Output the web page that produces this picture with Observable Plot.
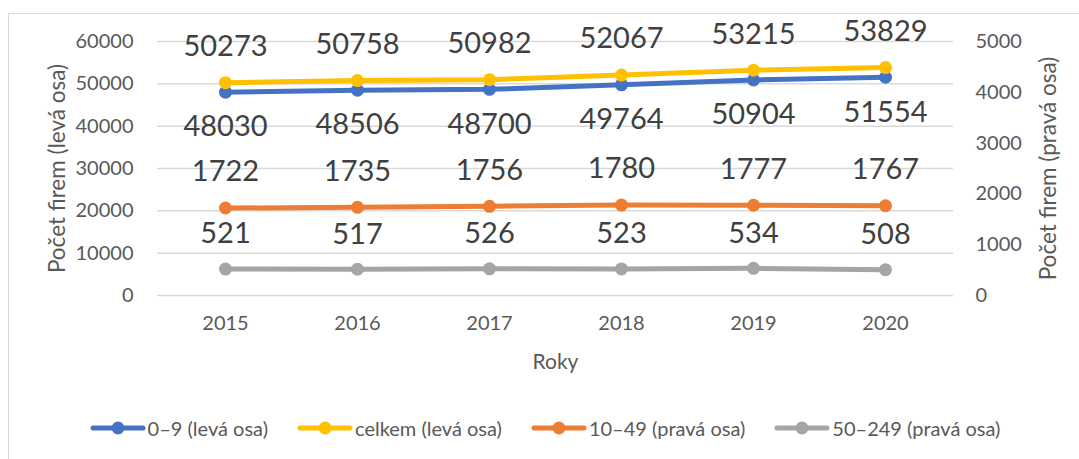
<!DOCTYPE html>
<html>
<head>
<meta charset="utf-8">
<script src="https://cdn.jsdelivr.net/npm/d3@7"></script>
<script src="https://cdn.jsdelivr.net/npm/@observablehq/plot@0.6"></script>
<style>
  html, body { margin: 0; padding: 0; background: #fff; }
  body { width: 1079px; height: 459px; overflow: hidden; position: relative; font-family: Lato, "Open Sans", sans-serif; }
  #frame { position: absolute; left: 8px; top: 13px; width: 1100px; height: 500px; border: 1.5px solid #d9d9d9; box-sizing: border-box; }
  #chart { position: absolute; left: 0; top: 0; }
  #legend { position: absolute; left: 0; top: 415px; width: 1090px; display: flex; justify-content: center; gap: 29px; font-size: 20px; color: #595959; }
  .item { display: flex; align-items: center; gap: 2px; }
</style>
</head>
<body>
<div id="frame"></div>
<div id="chart"></div>
<div id="legend"></div>
<script>
const years = ["2015", "2016", "2017", "2018", "2019", "2020"];
const micro = [48030, 48506, 48700, 49764, 50904, 51554];      // 0–9 (levá osa)
const total = [50273, 50758, 50982, 52067, 53215, 53829];      // celkem (levá osa)
const small = [1722, 1735, 1756, 1780, 1777, 1767];            // 10–49 (pravá osa)
const medium = [521, 517, 526, 523, 534, 508];                 // 50–249 (pravá osa)
const leftTicks = [0, 10000, 20000, 30000, 40000, 50000, 60000];
const rightTicks = [0, 1000, 2000, 3000, 4000, 5000];
const seriesNames = ["0–9 (levá osa)", "celkem (levá osa)", "10–49 (pravá osa)", "50–249 (pravá osa)"];
const colors = ["#4472C4", "#FFC000", "#ED7D31", "#A5A5A5"];
const ratio = 60000 / 5000; // right axis maps onto left axis

const rows = (vals, scale) => years.map((y, i) => ({year: y, value: vals[i], pos: vals[i] * scale}));
const sMicro = rows(micro, 1), sTotal = rows(total, 1), sSmall = rows(small, ratio), sMedium = rows(medium, ratio);

const lineAndDots = (data, color) => [
  Plot.line(data, {x: "year", y: "pos", stroke: color, strokeWidth: 5, strokeLinecap: "round"}),
  Plot.dot(data, {x: "year", y: "pos", fill: color, r: 6.5})
];
const labels = (data, dy) => Plot.text(data, {x: "year", y: "pos", text: d => String(d.value), dy, fontSize: 29, fill: "#404040", lineAnchor: "middle"});

const chart = Plot.plot({
  width: 1079,
  height: 459,
  marginLeft: 157,
  marginRight: 126,
  marginTop: 41,
  marginBottom: 164,
  style: {fontFamily: "Lato, 'Open Sans', sans-serif", background: "transparent"},
  x: {type: "point", domain: years, padding: 0.5, axis: null},
  y: {domain: [0, 60000], axis: null},
  marks: [
    Plot.ruleY(leftTicks, {stroke: "#d9d9d9", strokeWidth: 1.5}),
    Plot.text(leftTicks, {y: d => d, text: d => String(d), frameAnchor: "left", dx: -24, textAnchor: "end", fontSize: 20, fill: "#595959", lineAnchor: "middle"}),
    Plot.text(rightTicks, {y: d => d * ratio, text: d => String(d), frameAnchor: "right", dx: 22, textAnchor: "start", fontSize: 20, fill: "#595959", lineAnchor: "middle"}),
    Plot.text(years, {x: d => d, text: d => d, frameAnchor: "bottom", dy: 28, fontSize: 20, fill: "#595959", lineAnchor: "middle"}),
    Plot.text(["Počet firem (levá osa)"], {frameAnchor: "left", dx: -100, rotate: -90, textAnchor: "middle", fontSize: 22.5, fill: "#595959", lineAnchor: "middle"}),
    Plot.text(["Počet firem (pravá osa)"], {frameAnchor: "right", dx: 95, rotate: -90, textAnchor: "middle", fontSize: 22.5, fill: "#595959", lineAnchor: "middle"}),
    Plot.text(["Roky"], {frameAnchor: "bottom", dy: 67, fontSize: 21, fill: "#595959", lineAnchor: "middle"}),
    ...lineAndDots(sMedium, colors[3]),
    ...lineAndDots(sSmall, colors[2]),
    ...lineAndDots(sMicro, colors[0]),
    ...lineAndDots(sTotal, colors[1]),
    labels(sTotal, -36),
    labels(sMicro, 35),
    labels(sSmall, -36),
    labels(sMedium, -35)
  ]
});
document.getElementById("chart").appendChild(chart);

const legend = document.getElementById("legend");
seriesNames.forEach((name, i) => {
  const item = document.createElement("div");
  item.className = "item";
  item.innerHTML = `<svg width="56" height="26"><line x1="3" y1="13" x2="53" y2="13" stroke="${colors[i]}" stroke-width="5" stroke-linecap="round"/><circle cx="28" cy="13" r="6.5" fill="${colors[i]}"/></svg><span>${name}</span>`;
  legend.appendChild(item);
});
</script>
</body>
</html>
